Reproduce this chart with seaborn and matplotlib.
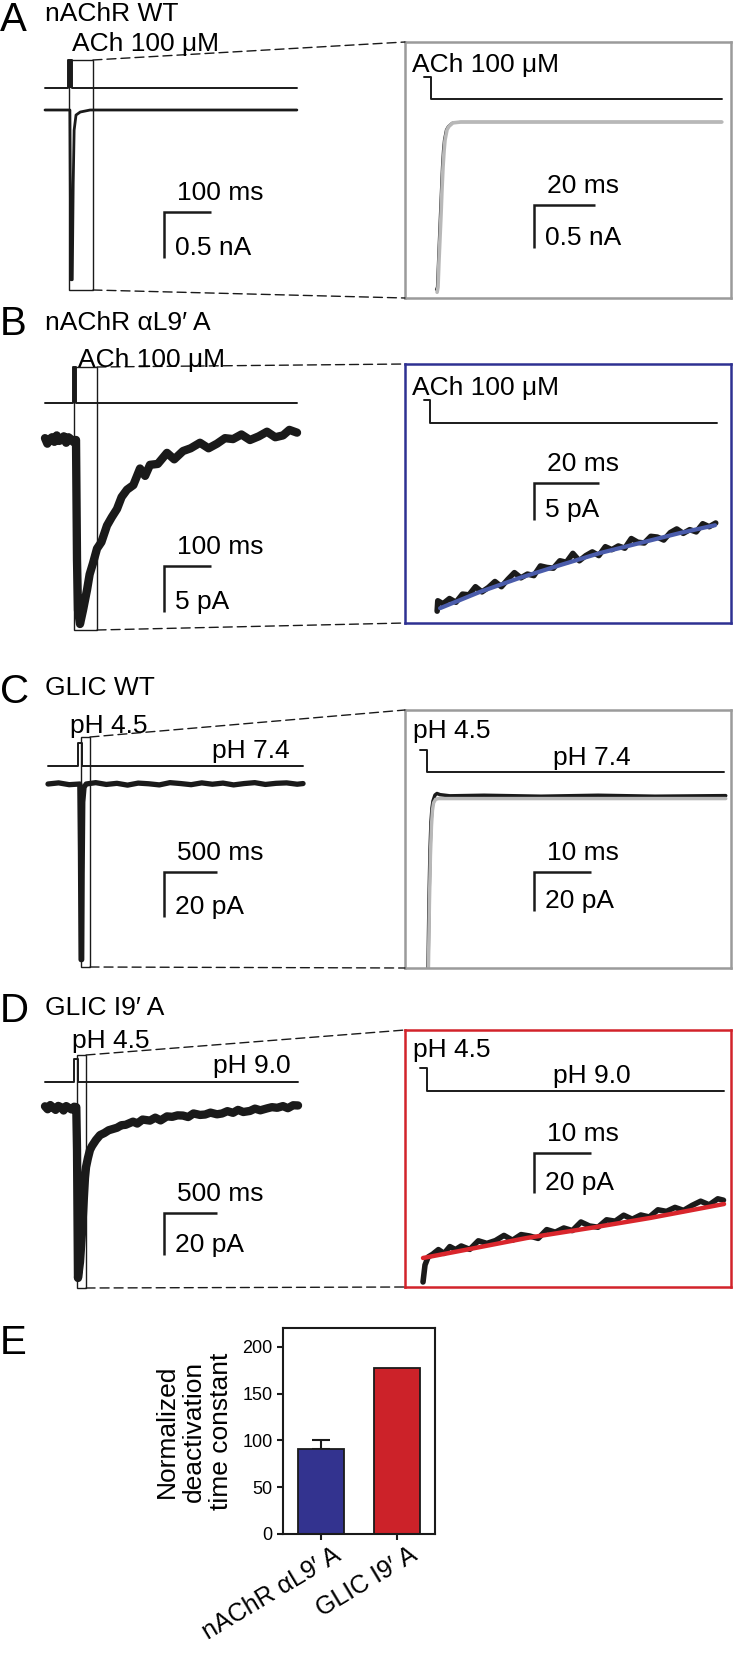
import numpy as np
import matplotlib
matplotlib.use("Agg")
import matplotlib.pyplot as plt
import seaborn as sns
from matplotlib.patches import Rectangle, ConnectionPatch
from matplotlib.lines import Line2D
from matplotlib.transforms import Affine2D, ScaledTranslation

# ---------------- data ----------------
# A  nAChR WT  (ms, nA)
A_left_t = [0, 53, 55, 58, 60, 62, 66, 75, 96, 536]
A_left_i = [0, 0, -1.85, -1.85, -0.8, -0.22, -0.055, -0.022, 0, 0]
A_stim_t = [0, 49, 49, 57, 57, 536]
A_stim_lvl = [0, 0, 1, 1, 0, 0]
A_window = (51, 102)
A_zoom_t = [1.64, 1.97, 2.30, 2.62, 2.95, 3.28, 3.61, 3.94, 4.26, 4.92, 5.58, 6.89, 9.51, 95.4]
A_zoom_i = [-1.95, -1.92, -1.63, -1.35, -1.07, -0.79, -0.52, -0.33, -0.21, -0.09, -0.05, -0.01, 0, 0]
A_fit_t = [2.0, 2.3, 2.6, 2.95, 3.3, 3.6, 3.95, 4.3, 4.6, 5.25, 5.9, 7.2, 9.8, 95.4]
A_fit_i = [-1.98, -1.92, -1.63, -1.35, -1.07, -0.79, -0.52, -0.33, -0.21, -0.09, -0.05, -0.01, 0, 0]
A_zstim_t = [-2.3, 0, 0, 95.4]
A_zstim_lvl = [1, 1, 0, 0]

# B  nAChR aL9'A  (ms, pA)
B_left_t = [0, 5, 10, 15, 20, 25, 30, 35, 40, 45, 50, 55, 60, 64,
            66.0, 68.1, 70.2, 74.5, 80.9, 89.4, 95, 102.1, 110.7, 120, 131.9, 142,
            153.2, 163, 174.5, 188, 202.2, 213, 223.4, 240, 259.6, 275, 293.7, 310,
            329.8, 348, 366.0, 383, 400.1, 418, 436.2, 455, 472.4, 490, 506.5, 520, 536.3]
B_left_i = [0.2, -0.4, 0.1, 0.3, -0.2, 0.5, -0.1, 0.0, 0.4, -0.3, 0.3, 0.1, -0.2, 0,
            0, -13.0, -18.5, -20.0, -18.5, -16.3, -14.6, -13.4, -11.8, -11.1, -9.3, -8.4,
            -7.5, -6.2, -5.4, -4.9, -3.1, -3.9, -2.7, -2.6, -1.4, -2.1, -1.2, -0.9,
            -0.3, -0.9, -0.4, 0.2, 0.1, 0.6, 0.0, 0.4, 0.9, 0.3, 0.5, 1.1, 0.8]
B_stim_t = [0, 60, 60, 66, 66, 536]
B_stim_lvl = [0, 0, 1, 1, 0, 0]
B_window = (61.7, 110.7)
B_zoom_t = [2.2, 2.4, 4, 6, 8, 10, 12, 14, 16, 18, 20, 22, 24, 26, 28, 30, 32, 34, 36, 38, 40,
            42, 44, 46, 48, 50, 52, 54, 56, 58, 60, 62, 64, 66, 68, 70, 72, 74, 76, 78, 80,
            82, 84, 86, 88]
B_zoom_i = [1.6, 3.0, 2.6, 3.3, 2.8, 3.9, 3.8, 4.9, 4.2, 4.8, 5.6, 4.9, 5.9, 6.8, 6.1, 6.6,
            6.4, 7.7, 7.5, 7.4, 8.4, 8.2, 9.4, 8.4, 9.1, 9.6, 9.1, 10.3, 9.9, 10.4, 10.1, 11.4,
            10.9, 10.8, 11.7, 11.6, 11.2, 12.2, 12.7, 12.1, 12.6, 12.3, 13.4, 13.0, 13.5]
B_fit_t = [3.1, 15.4, 27.7, 40.0, 52.4, 64.7, 77.0, 87.8]
B_fit_i = [2.0, 4.2, 6.1, 7.8, 9.45, 10.8, 12.15, 13.2]
B_zstim_t = [-1.85, 0, 0, 88.4]
B_zstim_lvl = [1, 1, 0, 0]

# C  GLIC WT  (ms, pA)
C_left_t = [0, 100, 200, 300, 306, 312, 318, 322, 328, 340, 360, 450, 550, 650, 750, 850,
            950, 1050, 1150, 1250, 1350, 1450, 1550, 1650, 1750, 1850, 1950, 2050, 2150,
            2250, 2350, 2405]
C_left_i = [0, 0.5, -0.3, 0, -30, -78, -78, -40, -8, -1.5, 0, 0.6, -0.2, 0.3, -0.5, 0.4,
            0.1, -0.4, 0.6, 0.2, -0.3, 0.5, -0.1, 0.4, -0.4, 0.2, 0.6, -0.2, 0.3, 0.5, -0.1, 0.2]
C_stim_t = [0, 283, 283, 321, 321, 2405]
C_stim_lvl = [0, 0, 1, 1, 0, 0]
C_window = (311, 396)
C_zoom_t = [0.18, 0.35, 0.53, 0.70, 0.88, 1.05, 1.40, 1.75, 2.28, 4.0, 10, 20, 30, 40, 52.4]
C_zoom_i = [-87.7, -52.8, -27.2, -12.8, -5.6, -2.1, 1.0, 1.8, 1.2, 0.6, 0.9, 0.4, 0.9, 0.4, 0.7]
C_fit_t = [0.25, 0.42, 0.6, 0.78, 0.95, 1.15, 1.5, 2.0, 3.0, 5.0, 52.4]
C_fit_i = [-87.7, -55, -30, -15, -7, -3, -1.2, -0.8, -0.8, -0.8, -0.8]
C_zstim_t = [-1.23, 0, 0, 52.1]
C_zstim_lvl = [1, 1, 0, 0]

# D  GLIC I9'A  (ms, pA)
D_left_t = [0, 25, 50, 75, 100, 125, 150, 175, 200, 225, 250, 275, 295, 302, 311, 330,
            349, 368, 377, 387, 405, 424, 443, 481, 519, 560, 600, 679, 720, 760, 830,
            870, 920, 990, 1040, 1090, 1150, 1200, 1250, 1301, 1350, 1400, 1462, 1510,
            1560, 1622, 1670, 1720, 1773, 1820, 1870, 1933, 1980, 2030, 2093, 2140, 2190,
            2244, 2290, 2340, 2386]
D_left_i = [0.8, -0.6, 1.4, 0.2, -0.9, 1.0, 0.4, -1.2, 0.9, 0.1, -0.7, 0.6, 0.4, -20,
            -80.9, -73.3, -59.0, -41.4, -33.3, -28.1, -23.8, -20.0, -18.1, -15.2, -12.9,
            -11.9, -10.6, -9.4, -8.2, -8.0, -6.5, -7.4, -5.5, -6.0, -4.6, -5.9, -4.0, -4.2,
            -3.5, -3.6, -4.3, -2.6, -3.3, -3.1, -2.2, -3.0, -2.6, -1.5, -2.3, -0.9, -1.9,
            -1.4, -0.3, -1.1, -0.2, 0.4, 0.1, 0.9, -0.1, 1.3, 1.2]
D_stim_t = [0, 273, 273, 311, 311, 2386]
D_stim_lvl = [0, 0, 1, 1, 0, 0]
D_window = (302, 387)
D_zoom_t = [-0.7, -0.35, 0.2, 1, 2, 3, 4, 5, 6, 7.5, 9, 10.5, 12, 13.5, 15, 16.5, 18, 19.5,
            21, 22.5, 24, 25.5, 27, 28.5, 30, 31.5, 33, 34.5, 36, 37.5, 39, 40.5, 42, 43.5,
            45, 46.5, 48, 49.5, 51, 52]
D_zoom_i = [2.5, 11, 15, 16.4, 18.7, 16.8, 20.2, 18.7, 20.5, 18.8, 23.1, 21.8, 23.2, 25.8,
            23.4, 26.2, 25.5, 24.3, 28.7, 27.4, 29.5, 28.2, 32.5, 30.5, 29.9, 33.6, 32.9, 35.9,
            33.9, 36.0, 35.0, 38.6, 37.8, 39.8, 38.3, 40.8, 42.9, 41.1, 44.1, 43.4]
D_fit_t = [-0.7, 7.54, 17.5, 28.6, 39.1, 52.1]
D_fit_i = [14.5, 19, 24.5, 29.5, 34.5, 41.5]
D_zstim_t = [-1.23, 0, 0, 52.1]
D_zstim_lvl = [1, 1, 0, 0]

# E  normalized deactivation time constant
E_groups = ["nAChR \u03b1L9\u2032 A", "GLIC I9\u2032 A"]
E_values = [91, 177]
E_sem = [9.5, 0]

# ---------------- figure ----------------
W, H = 734, 1657
FS = 19
sns.set_theme(style="white")
plt.rcParams['font.family'] = ['Liberation Sans', 'DejaVu Sans']
for k in ['text.color', 'axes.labelcolor', 'xtick.color', 'ytick.color']:
    plt.rcParams[k] = 'black'

fig = plt.figure(figsize=(W / 100, H / 100), dpi=100)
PX = Affine2D().scale(1 / W, -1 / H).translate(0, 1) + fig.transFigure


def txt(x, y, s, size=FS, **kw):
    fig.text(x, y, s, transform=PX, fontsize=size, va='baseline', **kw)


def trace_ax(rect, origin, scale):
    x0, y0, x1, y1 = rect
    ox, oy = origin
    sx, sy = scale
    ax = fig.add_axes([x0 / W, 1 - y1 / H, (x1 - x0) / W, (y1 - y0) / H])
    ax.set_xlim((x0 - ox) * sx, (x1 - ox) * sx)
    ax.set_ylim((oy - y1) * sy, (oy - y0) * sy)
    ax.set_xticks([])
    ax.set_yticks([])
    ax.patch.set_alpha(0)
    return ax


def scalebar(x, y, t_len, i_len, t_lab, i_lab, scale):
    dx = t_len / scale[0]
    dy = i_len / scale[1]
    fig.add_artist(Line2D([x + dx, x, x], [y, y, y + dy], transform=PX, color='k',
                          lw=1.8, solid_joinstyle='miter', solid_capstyle='butt'))
    txt(x + 13, y - 12, t_lab)
    txt(x + 11, y + dy - 3, i_lab)


def draw_stim(ax, origin, scale, st, lvl, stim_px, filled=False):
    base = (origin[1] - stim_px[0]) * scale[1]
    height = (stim_px[0] - stim_px[1]) * scale[1]
    level = base + height * np.asarray(lvl, float)
    sns.lineplot(x=st, y=level, ax=ax, color='k', lw=1.4, estimator=None, sort=False)
    if filled:
        ax.fill_between(st, base, level, color='k', lw=0)


def left_panel(rect, origin, scale, t, i, lw, st, lvl, stim_px, filled, window, box_px, bar):
    ax = trace_ax(rect, origin, scale)
    draw_stim(ax, origin, scale, st, lvl, stim_px, filled)
    sns.lineplot(x=t, y=i, ax=ax, color='k', lw=lw, estimator=None, sort=False)
    ax.axis('off')
    top = (origin[1] - box_px[0]) * scale[1]
    bottom = (origin[1] - box_px[1]) * scale[1]
    ax.add_patch(Rectangle((window[0], bottom), window[1] - window[0], top - bottom,
                           fill=False, ec='k', lw=1.0))
    scalebar(*bar, scale)
    return ax, (window[1], top), (window[1], bottom)


def right_panel(rect, origin, scale, t, i, lw, ft, fi, fit_col, fit_lw, st, lvl, stim_px, edge, bar):
    ax = trace_ax(rect, origin, scale)
    draw_stim(ax, origin, scale, st, lvl, stim_px)
    sns.lineplot(x=t, y=i, ax=ax, color='k', lw=lw, estimator=None, sort=False)
    sns.lineplot(x=ft, y=fi, ax=ax, color=fit_col, lw=fit_lw, estimator=None, sort=False)
    for sp in ax.spines.values():
        sp.set_visible(True)
        sp.set_color(edge)
        sp.set_linewidth(1.8)
    scalebar(*bar, scale)
    return ax


def connect(axL, top, bottom, axR):
    for xyA, xyB in [(top, (0, 1)), (bottom, (0, 0))]:
        con = ConnectionPatch(xyA=xyA, coordsA='data', axesA=axL, xyB=xyB,
                              coordsB='axes fraction', axesB=axR, color='k', lw=1.0,
                              linestyle=(0, (6.5, 3.6)))
        fig.add_artist(con)


GRAY_BOX = '#9b9b9b'
GRAY_FIT = '#b8b8b8'

# ---- A ----
sA = (2.128, 0.0109)
axA, tA, bA = left_panel((35, 45, 310, 305), (45, 110), sA, A_left_t, A_left_i, 2.0,
                         A_stim_t, A_stim_lvl, (88, 60), True, A_window, (60, 290),
                         (164, 212, 100, 0.5, '100 ms', '0.5 nA'))
axAr = right_panel((405, 42, 731, 298), (431, 122), (0.328, 0.01163), A_zoom_t, A_zoom_i, 1.6,
                   A_fit_t, A_fit_i, GRAY_FIT, 2.6, A_zstim_t, A_zstim_lvl, (99, 77), GRAY_BOX,
                   (534, 205, 20, 0.5, '20 ms', '0.5 nA'))
connect(axA, tA, bA, axAr)
txt(0, 31, 'A', size=29)
txt(45, 21, 'nAChR WT')
txt(72, 51, 'ACh 100 \u03bcM')
txt(412, 72, 'ACh 100 \u03bcM')

# ---- B ----
sB = (2.128, 0.1087)
axB, tB, bB = left_panel((35, 355, 310, 640), (45, 440), sB, B_left_t, B_left_i, 6.0,
                         B_stim_t, B_stim_lvl, (403, 367), True, B_window, (367, 630),
                         (164, 566, 100, 5, '100 ms', '5 pA'))
axBr = right_panel((405, 364, 731, 623), (430, 623), (0.308, 0.135), B_zoom_t, B_zoom_i, 4.0,
                   B_fit_t, B_fit_i, '#4a5cab', 3.0, B_zstim_t, B_zstim_lvl, (423, 400),
                   '#2e3192', (534, 483, 20, 5, '20 ms', '5 pA'))
connect(axB, tB, bB, axBr)
txt(0, 335, 'B', size=29)
txt(45, 330, 'nAChR \u03b1L9\u2032 A')
txt(78, 367, 'ACh 100 \u03bcM')
txt(412, 395, 'ACh 100 \u03bcM')

# ---- C ----
sC = (9.43, 0.444)
axC, tC, bC = left_panel((35, 730, 310, 975), (48, 784), sC, C_left_t, C_left_i, 3.8,
                         C_stim_t, C_stim_lvl, (766, 743), False, C_window, (737, 967),
                         (164, 872, 500, 20, '500 ms', '20 pA'))
axCr = right_panel((405, 710, 731, 968), (427, 797), (0.1754, 0.513), C_zoom_t, C_zoom_i, 2.5,
                   C_fit_t, C_fit_i, GRAY_FIT, 2.5, C_zstim_t, C_zstim_lvl, (772, 750), GRAY_BOX,
                   (534, 872, 10, 20, '10 ms', '20 pA'))
connect(axC, tC, bC, axCr)
txt(0, 703, 'C', size=29)
txt(45, 695, 'GLIC WT')
txt(70, 733, 'pH 4.5')
txt(212, 758, 'pH 7.4')
txt(413, 738, 'pH 4.5')
txt(553, 765, 'pH 7.4')

# ---- D ----
sD = (9.43, 0.476)
axD, tD, bD = left_panel((35, 1045, 310, 1295), (45, 1108), sD, D_left_t, D_left_i, 6.0,
                         D_stim_t, D_stim_lvl, (1082, 1059), False, D_window, (1055, 1288),
                         (164, 1213, 500, 20, '500 ms', '20 pA'))
axDr = right_panel((405, 1030, 731, 1287), (427, 1287), (0.1754, 0.5), D_zoom_t, D_zoom_i, 4.0,
                   D_fit_t, D_fit_i, '#d9262c', 3.2, D_zstim_t, D_zstim_lvl, (1091, 1068),
                   '#d2232a', (534, 1153, 10, 20, '10 ms', '20 pA'))
connect(axD, tD, bD, axDr)
txt(0, 1022, 'D', size=29)
txt(45, 1015, 'GLIC I9\u2032 A')
txt(72, 1048, 'pH 4.5')
txt(213, 1073, 'pH 9.0')
txt(413, 1057, 'pH 4.5')
txt(553, 1083, 'pH 9.0')

# ---- E ----
txt(0, 1354, 'E', size=29)
x0, y0, x1, y1 = 283, 1328, 435, 1534
axE = fig.add_axes([x0 / W, 1 - y1 / H, (x1 - x0) / W, (y1 - y0) / H])
sns.barplot(x=E_groups, y=E_values, hue=E_groups, palette=['#33338f', '#cc2229'],
            saturation=1, width=0.6, edgecolor='#1a1a1a', linewidth=1.3, legend=False,
            errorbar=None, ax=axE)
axE.errorbar([0], [E_values[0]], yerr=[[0], [E_sem[0]]], fmt='none', ecolor='k',
             elinewidth=1.5, capsize=6.5, capthick=1.5, zorder=0)
axE.set_ylim(0, 220)
axE.set_xlim(-0.5, 1.5)
axE.set_yticks([0, 50, 100, 150, 200])
axE.set_xlabel('')
axE.set_ylabel('Normalized\ndeactivation\ntime constant', fontsize=FS, linespacing=1.15)
axE.yaxis.set_label_coords(-0.33, 0.5)
for sp in axE.spines.values():
    sp.set_color('k')
    sp.set_linewidth(1.5)
axE.tick_params(axis='both', direction='out', length=4.5, width=1.5, color='k',
                left=True, bottom=True)
axE.tick_params(axis='y', labelsize=13, pad=3)
axE.tick_params(axis='x', labelsize=18, pad=2)
off = ScaledTranslation(12 / 100, 0, fig.dpi_scale_trans)
for lab in axE.get_xticklabels():
    lab.set_rotation(31)
    lab.set_ha('right')
    lab.set_va('top')
    lab.set_rotation_mode('anchor')
    lab.set_transform(lab.get_transform() + off)

fig.savefig('out.png', dpi=100)
